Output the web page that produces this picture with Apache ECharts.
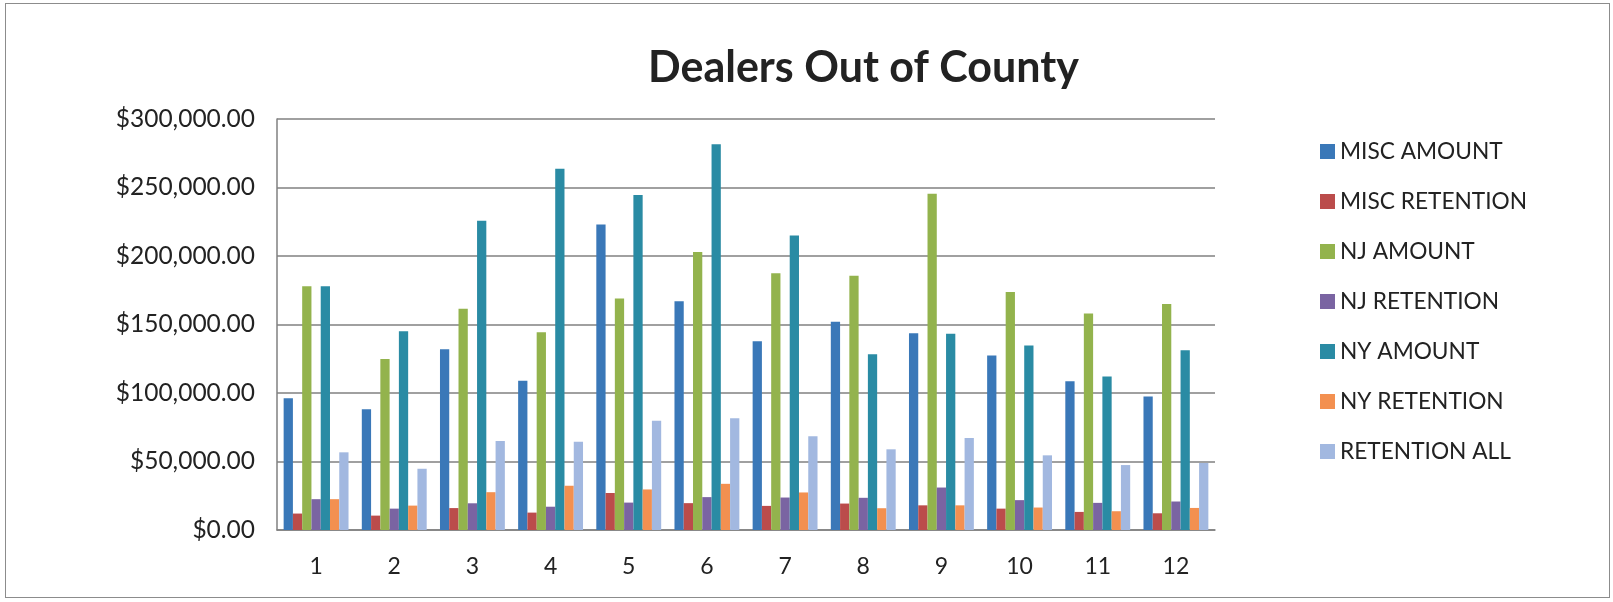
<!DOCTYPE html>
<html>
<head>
  <meta charset="UTF-8">
  <title>Dealers Out of County</title>
  <script src="https://cdn.jsdelivr.net/npm/echarts@6/dist/echarts.min.js"></script>
  <style>
    body { margin: 0; background: #fff; }
    #main { position: absolute; left: 0; top: 0; width: 1613px; height: 602px; }
    #frame { position: absolute; left: 5px; top: 3px; width: 1603px; height: 593px; border: 1px solid #8c8c8c; pointer-events: none; }
  </style>
</head>
<body>
  <div id="main"></div>
  <div id="frame"></div>
  <script>
    // months
    var categories = ['1', '2', '3', '4', '5', '6', '7', '8', '9', '10', '11', '12'];

    var miscAmount = [96200, 88200, 132000, 109000, 223000, 167000, 137800, 152000, 143700, 127300, 108500, 97500];
    var miscRetention = [12000, 10500, 16000, 12700, 27000, 19600, 17600, 19300, 18000, 15600, 13200, 12200];
    var njAmount = [178000, 124900, 161500, 144400, 169000, 203000, 187400, 185500, 245400, 173800, 158000, 165000];
    var njRetention = [22500, 15600, 19500, 17000, 20000, 24000, 23700, 23500, 31000, 21800, 19800, 20800];
    var nyAmount = [178000, 145000, 225800, 263600, 244600, 281500, 215000, 128300, 143200, 134700, 112000, 131200];
    var nyRetention = [22500, 17800, 27600, 32300, 29600, 33700, 27400, 15900, 18000, 16400, 13700, 16100];
    var retentionAll = [56700, 44700, 65000, 64500, 79700, 81600, 68400, 58900, 67200, 54500, 47400, 48900];

    var seriesNames = ['MISC AMOUNT', 'MISC RETENTION', 'NJ AMOUNT', 'NJ RETENTION', 'NY AMOUNT', 'NY RETENTION', 'RETENTION ALL'];
    var seriesData = [miscAmount, miscRetention, njAmount, njRetention, nyAmount, nyRetention, retentionAll];
    var colors = ['#3a78b8', '#bb4c4b', '#93b34d', '#7a64a2', '#2a8ba4', '#f39050', '#a2b8e0'];

    var myChart = echarts.init(document.getElementById('main'));

    var series = seriesNames.map(function (name, i) {
      return {
        name: name,
        type: 'bar',
        data: seriesData[i],
        barGap: '0%',
        barCategoryGap: '17%',
        itemStyle: { color: colors[i] }
      };
    });

    var option = {
      animation: false,
      color: colors,
      textStyle: { fontFamily: 'Lato' },
      title: {
        text: 'Dealers Out of County',
        left: 643,
        top: 42,
        textStyle: { fontFamily: 'Lato', fontWeight: 'bold', fontSize: 43, color: '#222' }
      },
      legend: {
        orient: 'vertical',
        left: 1315,
        top: 134,
        itemWidth: 15,
        itemHeight: 15,
        itemGap: 25,
        icon: 'rect',
        data: seriesNames,
        textStyle: { fontFamily: 'Lato', fontSize: 22.7, lineHeight: 25, color: '#222' }
      },
      grid: {
        left: 277,
        right: 398,
        top: 119,
        bottom: 72,
        containLabel: false
      },
      xAxis: {
        type: 'category',
        data: categories,
        axisLine: { lineStyle: { color: '#808080', width: 1.5 } },
        axisTick: { show: false },
        axisLabel: { margin: 25, fontFamily: 'Lato', fontSize: 23, color: '#222' }
      },
      yAxis: {
        type: 'value',
        min: 0,
        max: 300000,
        interval: 50000,
        axisLine: { show: true, lineStyle: { color: '#808080', width: 1.5 } },
        axisTick: { show: false },
        splitLine: { lineStyle: { color: '#808080', width: 1.5 } },
        axisLabel: {
          margin: 22,
          fontFamily: 'Lato',
          fontSize: 24.5,
          color: '#222',
          formatter: function (v) {
            return '$' + v.toLocaleString('en-US', { minimumFractionDigits: 2, maximumFractionDigits: 2 });
          }
        }
      },
      series: series
    };
    myChart.setOption(option);
  </script>
</body>
</html>
